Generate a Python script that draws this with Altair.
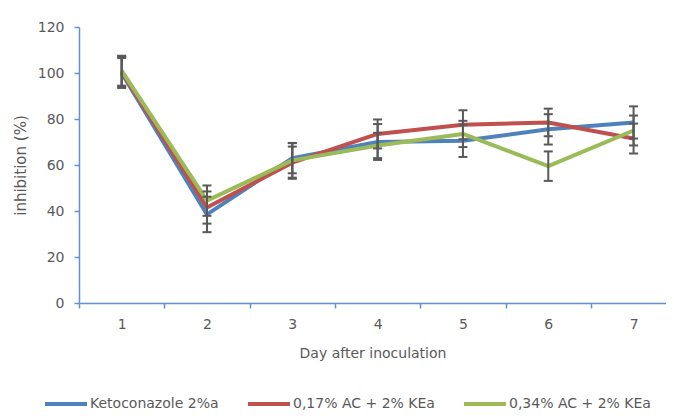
import altair as alt
import pandas as pd

days = [1, 2, 3, 4, 5, 6, 7]
series_names = ["Ketoconazole 2%a", "0,17% AC + 2% KEa", "0,34% AC + 2% KEa"]
keto = [100, 38.5, 63, 70, 70.5, 75.5, 78.5]
ac017 = [100.5, 41.5, 61, 73.5, 77.5, 78.5, 71.5]
ac034 = [101, 44.5, 62, 68.5, 73.5, 59.5, 75]
keto_err = [6.5, 7.7, 6.6, 7.8, 7.0, 6.6, 7.0]
ac017_err = [6.5, 7.0, 7.0, 6.3, 6.3, 6.0, 6.5]
ac034_err = [6.5, 6.6, 7.5, 5.5, 5.7, 6.4, 6.5]
colors = ["#4F81BD", "#C0504D", "#9BBB59"]

rows = []
for name, vals, errs in zip(series_names, [keto, ac017, ac034], [keto_err, ac017_err, ac034_err]):
    for d, v, e in zip(days, vals, errs):
        rows.append({"day": d, "series": name, "value": v, "lo": v - e, "hi": v + e})
df = pd.DataFrame(rows)

axis_color = "#5E91D1"
text_color = "#595959"
font = "DejaVu Sans"

x_enc = alt.X(
    "day:Q",
    scale=alt.Scale(domain=[0.5, 7.38], nice=False, zero=False),
    axis=alt.Axis(
        values=[0.5, 1, 1.5, 2, 2.5, 3, 3.5, 4, 4.5, 5, 5.5, 6, 6.5, 7],
        labelExpr="datum.value % 1 === 0 ? '' + datum.value : ''",
        tickOpacity={"condition": {"test": "datum.value % 1 === 0", "value": 0}, "value": 1},
        title="Day after inoculation",
        grid=False,
        domainColor=axis_color,
        domainWidth=1.5,
        tickColor=axis_color,
        tickWidth=1.5,
        tickSize=5,
        labelPadding=9,
        labelFontSize=14,
        labelColor=text_color,
        labelFont=font,
        titleFontSize=14,
        titleFont=font,
        titleColor=text_color,
        titleFontWeight="normal",
        titlePadding=15,
        labelFlush=False,
        labelOverlap=False,
    ),
)
y_enc = alt.Y(
    "value:Q",
    scale=alt.Scale(domain=[0, 120], nice=False),
    axis=alt.Axis(
        values=[0, 20, 40, 60, 80, 100, 120],
        title="inhibition (%)",
        grid=False,
        domainColor=axis_color,
        domainWidth=1.5,
        tickColor=axis_color,
        tickWidth=1.5,
        tickSize=5,
        labelPadding=10,
        labelFontSize=14,
        labelColor=text_color,
        labelFont=font,
        titleFontSize=15,
        titleFont=font,
        titleColor=text_color,
        titleFontWeight="normal",
        titlePadding=9,
    ),
)

color_enc = alt.Color(
    "series:N",
    scale=alt.Scale(domain=series_names, range=colors),
    sort=series_names,
    legend=alt.Legend(
        title=None,
        orient="none",
        direction="horizontal",
        legendX=-36,
        legendY=354,
        symbolType="stroke",
        symbolSize=1764,
        symbolStrokeWidth=4,
        labelFontSize=14,
        labelFont=font,
        labelColor=text_color,
        labelOffset=1,
        columnPadding=21,
    ),
)

base = alt.Chart(df)

lines = base.mark_line(strokeWidth=4, strokeJoin="round").encode(
    x=x_enc, y=y_enc, color=color_enc, detail="series:N"
)

err_rule = base.mark_rule(color="#595959", strokeWidth=2).encode(
    x="day:Q", y="lo:Q", y2="hi:Q"
)
cap_lo = base.mark_point(shape="stroke", size=81, strokeWidth=2, color="#595959", opacity=1).encode(
    x="day:Q", y="lo:Q"
)
cap_hi = base.mark_point(shape="stroke", size=81, strokeWidth=2, color="#595959", opacity=1).encode(
    x="day:Q", y="hi:Q"
)

chart = alt.layer(lines, err_rule, cap_lo, cap_hi).properties(
    width=587,
    height=276,
    autosize=alt.AutoSizeParams(type="none"),
    padding={"left": 71, "top": 19, "right": 0, "bottom": 108},
).configure_view(stroke=None)

chart.save("out.html", embed_options={"renderer": "svg", "actions": False})
